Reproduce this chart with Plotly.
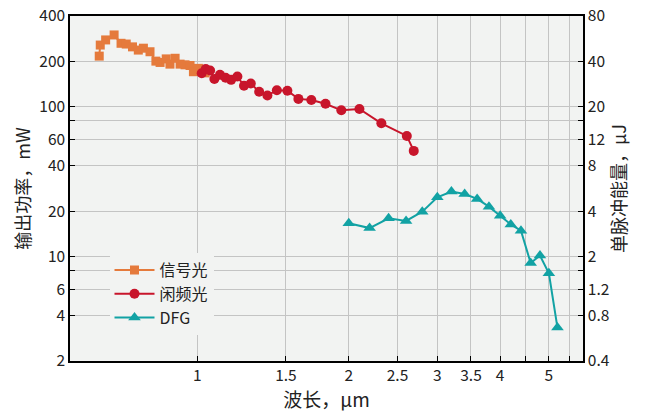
import plotly.graph_objects as go

# Signal (信号光)
sig_x = [0.638, 0.641, 0.657, 0.683, 0.705, 0.722, 0.743, 0.763, 0.781, 0.805, 0.827, 0.843,
         0.867, 0.882, 0.903, 0.924, 0.945, 0.967, 0.982, 1.005, 1.036]
sig_y = [216, 256, 277, 299, 263, 260, 249, 237, 244, 231, 200, 196,
         207, 191, 209, 191, 189, 187, 170, 179, 167]

# Idler (闲频光)
idl_x = [1.020, 1.039, 1.060, 1.081, 1.109, 1.138, 1.167, 1.201, 1.238, 1.277, 1.327, 1.378,
         1.439, 1.510, 1.588, 1.685, 1.798, 1.933, 2.10, 2.322, 2.609, 2.693]
idl_y = [166, 177, 173, 152, 162, 155, 150, 158, 137, 142, 125, 118,
         128, 127, 112, 110, 104, 94, 96, 77, 63.4, 50.4]

# DFG
dfg_x = [2.0, 2.2, 2.4, 2.6, 2.8, 3.0, 3.2, 3.4, 3.6, 3.8, 4.0, 4.2, 4.4, 4.6, 4.8, 5.0, 5.2]
dfg_y = [16.6, 15.4, 17.9, 17.2, 19.8, 24.7, 27.0, 26.0, 24.1, 21.4, 18.6, 16.3, 14.8, 9.0, 10.1, 7.7, 3.34]

x_tickvals = [1, 1.5, 2, 2.5, 3, 3.5, 4, 4.5, 5, 5.5]
x_ticktext = ["1", "1.5", "2", "2.5", "3", "3.5", "4", "", "5", ""]
y_tickvals = [2, 4, 6, 8, 10, 20, 40, 60, 80, 100, 200, 400]
y_ticktext = ["2", "4", "6", "", "10", "20", "40", "60", "", "100", "200", "400"]
y2_tickvals = [0.4, 0.8, 1.2, 1.6, 2, 4, 8, 12, 16, 20, 40, 80]
y2_ticktext = ["0.4", "0.8", "1.2", "", "2", "4", "8", "12", "", "20", "40", "80"]

FONT = "Noto Sans CJK SC"

fig = go.Figure()
fig.add_trace(go.Scatter(x=sig_x, y=sig_y, name="信号光", mode="lines+markers",
                         line=dict(color="#E57A3C", width=2),
                         marker=dict(symbol="square", size=9, color="#E57A3C")))
fig.add_trace(go.Scatter(x=idl_x, y=idl_y, name="闲频光", mode="lines+markers",
                         line=dict(color="#C8152B", width=2),
                         marker=dict(symbol="circle", size=10, color="#C8152B")))
fig.add_trace(go.Scatter(x=dfg_x, y=dfg_y, name="DFG", mode="lines+markers",
                         line=dict(color="#12A2A4", width=2),
                         marker=dict(symbol="triangle-up", size=11, color="#12A2A4")))
fig.add_trace(go.Scatter(x=[], y=[], yaxis="y2", showlegend=False, hoverinfo="skip"))

base = dict(showline=True, linecolor="black", linewidth=1.5, automargin=False,
            ticks="inside", ticklen=5, tickcolor="black",
            tickfont=dict(family=FONT, size=15.5, color="#222"), zeroline=False)
grid = dict(showgrid=True, gridcolor="#c4c4c4", gridwidth=1)

fig.update_layout(
    width=648, height=415,
    margin=dict(l=70, r=65, t=16, b=54),
    paper_bgcolor="white", plot_bgcolor="#f2f3f2",
    font=dict(family=FONT, color="#222"),
    xaxis=dict(type="log", range=[-0.2533, 0.7668], tickvals=x_tickvals, ticktext=x_ticktext,
               mirror=True,
               title=dict(text="波长，μm", font=dict(family=FONT, size=19), standoff=2),
               **base, **grid),
    yaxis=dict(type="log", range=[0.30103, 2.60206], tickvals=y_tickvals, ticktext=y_ticktext,
               title=dict(text="输出功率，mW", font=dict(family=FONT, size=18), standoff=4),
               **base, **grid),
    yaxis2=dict(type="log", range=[-0.39794, 1.90309], tickvals=y2_tickvals, ticktext=y2_ticktext,
                overlaying="y", side="right", showgrid=False,
                title=dict(text="单脉冲能量，μJ", font=dict(family=FONT, size=18), standoff=4),
                **base),
    legend=dict(x=0.077, y=0.313, xanchor="left", yanchor="top",
                bgcolor="#f2f3f2", font=dict(family=FONT, size=16),
                itemwidth=40, tracegroupgap=0),
    showlegend=True,
)

fig.write_html("out.html", config={"displayModeBar": False},
               post_script="document.body.style.margin='0';document.body.style.padding='0';")
